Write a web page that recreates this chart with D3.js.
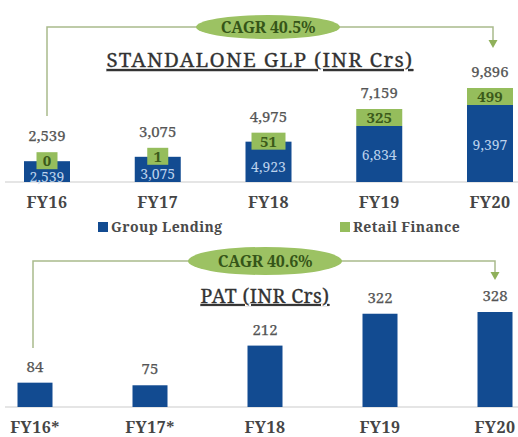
<!DOCTYPE html>
<html>
<head>
<meta charset="utf-8">
<script src="https://cdn.jsdelivr.net/npm/d3@7"></script>
<style>
  body { margin: 0; background: #fff; }
  svg { display: block; }
</style>
</head>
<body>
<svg id="chart" width="518" height="437"></svg>
<script>
// GLP chart data
const glpYears = ["FY16", "FY17", "FY18", "FY19", "FY20"];
const groupLending = [2539, 3075, 4923, 6834, 9397];
const retailFinance = [0, 1, 51, 325, 499];
const glpTotals = [2539, 3075, 4975, 7159, 9896];

// PAT chart data
const patYears = ["FY16*", "FY17*", "FY18", "FY19", "FY20"];
const patValues = [84, 75, 212, 322, 328];

const blue = "#124b91";
const green = "#95bd5c";
const lineCol = "#a9ba8c";
const greyText = "#555";
const serif = "'Noto Serif', 'Liberation Serif', serif";
const fmt = d3.format(",");

const svg = d3.select("#chart");

// CAGR bracket with ellipse + arrow
function bracket(y, x0, x1, yLeftEnd, yArrow, cx, rx, ry, label) {
  const g = svg.append("g");
  g.append("path")
    .attr("d", `M${x0},${yLeftEnd} L${x0},${y} L${x1},${y} L${x1},${yArrow - 7}`)
    .attr("fill", "none")
    .attr("stroke", lineCol)
    .attr("stroke-width", 1.5);
  g.append("path")
    .attr("d", `M${x1 - 4.5},${yArrow - 8} L${x1 + 4.5},${yArrow - 8} L${x1},${yArrow} Z`)
    .attr("fill", "#8fb05a");
  g.append("ellipse")
    .attr("cx", cx).attr("cy", y)
    .attr("rx", rx).attr("ry", ry)
    .attr("fill", "#9cc263");
  g.append("text")
    .attr("x", cx).attr("y", y + 5.5)
    .attr("text-anchor", "middle")
    .attr("font-family", serif)
    .attr("font-weight", "bold")
    .attr("font-size", 16)
    .attr("letter-spacing", -0.2)
    .attr("fill", "#355518")
    .text(label);
}

function title(x, y, label, size, spacing) {
  return svg.append("text")
    .attr("x", x).attr("y", y)
    .attr("text-anchor", "middle")
    .attr("font-family", serif)
    .attr("font-size", size)
    .attr("letter-spacing", spacing)
    .attr("fill", "#333")
    .attr("stroke", "#333")
    .attr("stroke-width", 0.3)
    .attr("text-decoration", "underline")
    .text(label);
}

// ---------- top chart: standalone GLP ----------
const glpData = glpYears.map((yr, i) => ({
  year: yr, gl: groupLending[i], rf: retailFinance[i], total: glpTotals[i]
}));

const xTop = d3.scalePoint().domain(glpYears).range([47, 490]);
const yTop = d3.scaleLinear().domain([0, 9397]).range([182, 105]);
const barW = 46;

bracket(27, 47, 493, 116, 48, 268, 72, 12, "CAGR 40.5%");
title(260, 67, "STANDALONE GLP (INR Crs)", 20.5, 1.3);

svg.append("line")
  .attr("x1", 5).attr("x2", 518)
  .attr("y1", yTop(0)).attr("y2", yTop(0))
  .attr("stroke", "#dcdcdc").attr("stroke-width", 1.5);

const glpBars = svg.append("g").selectAll("g")
  .data(glpData)
  .join("g");

glpBars.append("rect")
  .attr("x", d => xTop(d.year) - barW / 2)
  .attr("y", d => yTop(d.gl))
  .attr("width", barW)
  .attr("height", d => yTop(0) - yTop(d.gl))
  .attr("fill", blue);

// retail finance segment shown as a label box sitting on the stack
const boxH = 17;
const boxBottom = d => yTop(d.gl) + (d.rf < 100 ? 8 : 0);
const boxW = d => Math.min(barW, 8 + 13 * String(d.rf).length);

// group lending value (the small green boxes cover part of it, as in the source)
glpBars.append("text")
  .attr("x", d => xTop(d.year))
  .attr("y", d => (boxBottom(d) + yTop(0)) / 2 + 6)
  .attr("text-anchor", "middle")
  .attr("font-family", serif)
  .attr("font-size", 14)
  .attr("fill", "#bcd2ec")
  .text(d => fmt(d.gl));

glpBars.append("rect")
  .attr("x", d => xTop(d.year) - boxW(d) / 2)
  .attr("y", d => boxBottom(d) - Math.max(boxH, yTop(0) - yTop(d.rf)))
  .attr("width", d => boxW(d))
  .attr("height", d => Math.max(boxH, yTop(0) - yTop(d.rf)))
  .attr("fill", green);

glpBars.append("text")
  .attr("x", d => xTop(d.year))
  .attr("y", d => boxBottom(d) - boxH / 2 + 5.5)
  .attr("text-anchor", "middle")
  .attr("font-family", serif)
  .attr("font-weight", "bold")
  .attr("font-size", 15)
  .attr("fill", "#3b5a1a")
  .text(d => fmt(d.rf));

glpBars.append("text")
  .attr("x", d => xTop(d.year))
  .attr("y", d => boxBottom(d) - boxH - 11)
  .attr("text-anchor", "middle")
  .attr("font-family", serif)
  .attr("font-size", 15)
  .attr("fill", greyText)
  .attr("stroke", greyText)
  .attr("stroke-width", 0.25)
  .text(d => fmt(d.total));

svg.append("g").selectAll("text")
  .data(glpYears)
  .join("text")
  .attr("x", d => xTop(d))
  .attr("y", 208)
  .attr("text-anchor", "middle")
  .attr("font-family", serif)
  .attr("font-weight", "bold")
  .attr("font-size", 16)
  .attr("letter-spacing", 0.5)
  .attr("fill", "#454545")
  .text(d => d);

// legend
const legendItems = [
  { label: "Group Lending", color: blue, x: 98 },
  { label: "Retail Finance", color: green, x: 340 }
];
const lg = svg.append("g").selectAll("g")
  .data(legendItems)
  .join("g")
  .attr("transform", d => `translate(${d.x},227)`);
lg.append("rect")
  .attr("x", 0).attr("y", -5)
  .attr("width", 10).attr("height", 10)
  .attr("fill", d => d.color);
lg.append("text")
  .attr("x", 13).attr("y", 5)
  .attr("font-family", serif)
  .attr("font-weight", "bold")
  .attr("font-size", 14)
  .attr("letter-spacing", 0.4)
  .attr("fill", "#4a4a4a")
  .text(d => d.label);

// ---------- bottom chart: PAT ----------
const xBot = d3.scalePoint().domain(patYears).range([35, 495]);
const yBot = d3.scaleLinear().domain([0, 328]).range([407, 312]);
const patW = 35;

bracket(261, 33, 495, 348, 280, 265, 77, 14, "CAGR 40.6%");
title(265, 303, "PAT (INR Crs)", 19.5, 0.4);

svg.append("line")
  .attr("x1", 5).attr("x2", 518)
  .attr("y1", yBot(0)).attr("y2", yBot(0))
  .attr("stroke", "#dcdcdc").attr("stroke-width", 1.5);

const patBars = svg.append("g").selectAll("g")
  .data(patYears.map((yr, i) => ({ year: yr, value: patValues[i] })))
  .join("g");

patBars.append("rect")
  .attr("x", d => xBot(d.year) - patW / 2)
  .attr("y", d => yBot(d.value))
  .attr("width", patW)
  .attr("height", d => yBot(0) - yBot(d.value))
  .attr("fill", blue);

patBars.append("text")
  .attr("x", d => xBot(d.year))
  .attr("y", d => yBot(d.value) - 11)
  .attr("text-anchor", "middle")
  .attr("font-family", serif)
  .attr("font-size", 15)
  .attr("fill", greyText)
  .attr("stroke", greyText)
  .attr("stroke-width", 0.25)
  .text(d => d.value);

svg.append("g").selectAll("text")
  .data(patYears)
  .join("text")
  .attr("x", d => xBot(d))
  .attr("y", 433)
  .attr("text-anchor", "middle")
  .attr("font-family", serif)
  .attr("font-weight", "bold")
  .attr("font-size", 16)
  .attr("letter-spacing", 0.5)
  .attr("fill", "#454545")
  .text(d => d);
</script>
</body>
</html>
